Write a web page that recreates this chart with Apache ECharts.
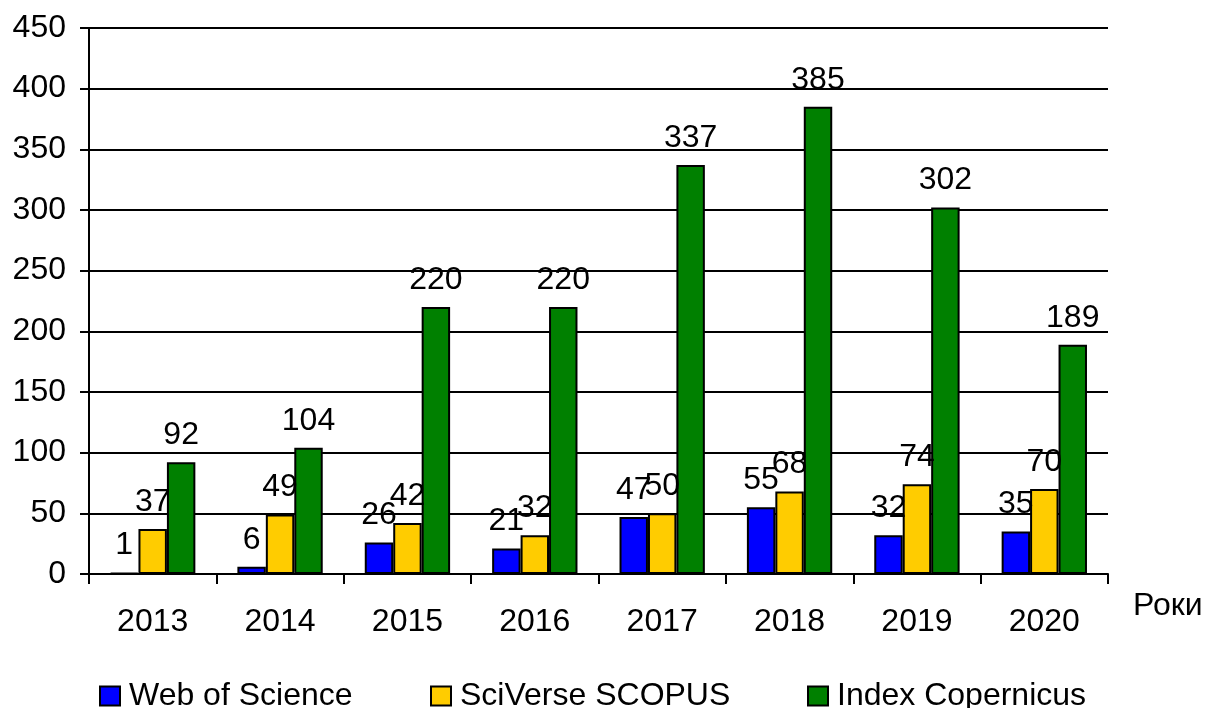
<!DOCTYPE html>
<html>
<head>
<meta charset="utf-8">
<script src="https://cdn.jsdelivr.net/npm/echarts@6/dist/echarts.min.js"></script>
<style>
html,body{margin:0;padding:0;background:#fff;}
#chart{width:1207px;height:708px;}
</style>
</head>
<body>
<div id="chart"></div>
<script>
const years = ['2013','2014','2015','2016','2017','2018','2019','2020'];
const seriesNames = ['Web of Science','SciVerse SCOPUS','Index Copernicus'];
const webOfScience = [1, 6, 26, 21, 47, 55, 32, 35];
const scopus = [37, 49, 42, 32, 50, 68, 74, 70];
const copernicus = [92, 104, 220, 220, 337, 385, 302, 189];
const xAxisTitle = 'Роки';

const FONT = "'Liberation Sans', Arial, sans-serif";
const FS = 32;
const colors = ['#0000FF', '#FFCC00', '#008000'];
const values = [webOfScience, scopus, copernicus];

const chart = echarts.init(document.getElementById('chart'), null, {renderer: 'canvas'});

const series = seriesNames.map((name, i) => ({
  name: name,
  type: 'bar',
  data: values[i],
  barGap: '0%',
  barCategoryGap: '33%',
  itemStyle: {color: colors[i], borderColor: '#000', borderWidth: 2},
  label: {
    show: true, position: 'top', distance: 11,
    color: '#000', fontSize: FS, fontFamily: FONT
  },
  emphasis: {disabled: true}
}));

const legendLefts = [94, 425, 802];
const legends = seriesNames.map((name, i) => ({
  data: [name],
  left: legendLefts[i],
  top: 675,
  orient: 'horizontal',
  icon: 'rect',
  itemWidth: 20,
  itemHeight: 19,
  textStyle: {color: '#000', fontSize: FS, fontFamily: FONT, padding: [0, 0, 0, 4]},
  selectedMode: false
}));

chart.setOption({
  animation: false,
  backgroundColor: '#fff',
  textStyle: {fontFamily: FONT},
  title: {
    text: xAxisTitle,
    left: 1133, top: 590,
    padding: 0,
    textStyle: {color: '#000', fontSize: FS, fontWeight: 'normal', fontFamily: FONT}
  },
  legend: legends,
  grid: {left: 89, right: 99, top: 28, bottom: 134, containLabel: false},
  xAxis: {
    type: 'category',
    data: years,
    boundaryGap: true,
    axisLine: {show: true, lineStyle: {color: '#000', width: 2}},
    axisTick: {show: true, length: 10, lineStyle: {color: '#000', width: 2}},
    axisLabel: {color: '#000', fontSize: FS, fontFamily: FONT, margin: 32}
  },
  yAxis: {
    type: 'value',
    min: 0, max: 450, interval: 50,
    axisLine: {show: true, lineStyle: {color: '#000', width: 2}},
    axisTick: {show: true, length: 9, lineStyle: {color: '#000', width: 2}},
    axisLabel: {color: '#000', fontSize: FS, fontFamily: FONT, margin: 23},
    splitLine: {show: true, lineStyle: {color: '#000', width: 2}}
  },
  series: series
});
</script>
</body>
</html>
